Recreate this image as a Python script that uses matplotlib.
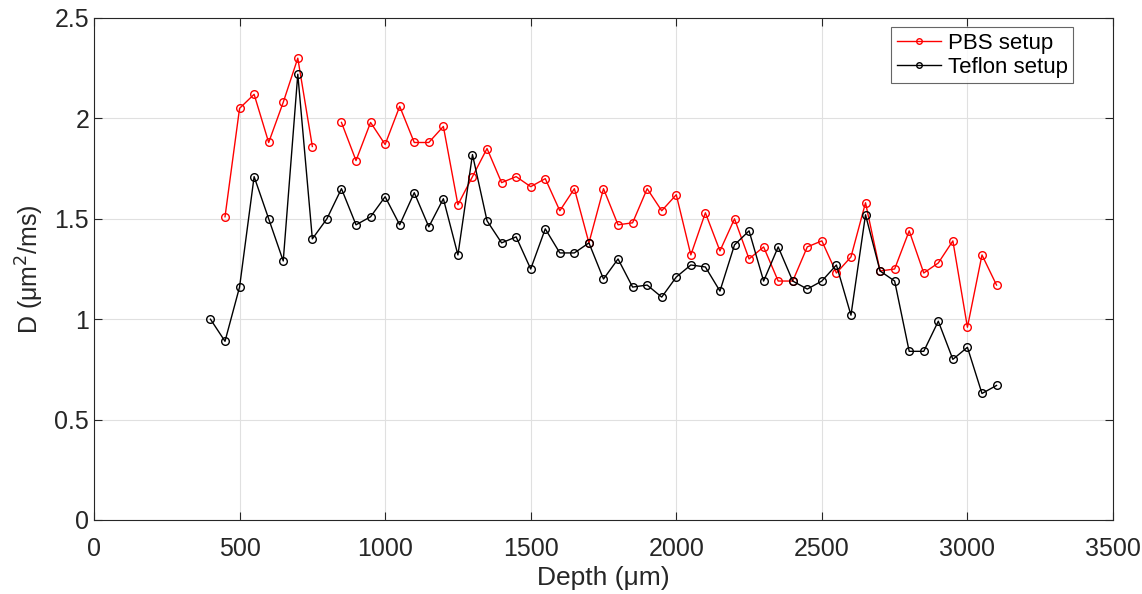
import numpy as np
import matplotlib
matplotlib.use('Agg')
import matplotlib.pyplot as plt

plt.rcParams['font.family'] = ['Liberation Sans', 'DejaVu Sans']

# PBS setup (no point at 800 um)
pbs_depth = np.arange(450, 3101, 50)
pbs_D = [1.51, 2.05, 2.12, 1.88, 2.08, 2.30, 1.86, np.nan, 1.98, 1.79,
         1.98, 1.87, 2.06, 1.88, 1.88, 1.96, 1.57, 1.71, 1.85, 1.68,
         1.71, 1.66, 1.70, 1.54, 1.65, 1.38, 1.65, 1.47, 1.48, 1.65,
         1.54, 1.62, 1.32, 1.53, 1.34, 1.50, 1.30, 1.36, 1.19, 1.19,
         1.36, 1.39, 1.23, 1.31, 1.58, 1.24, 1.25, 1.44, 1.23, 1.28,
         1.39, 0.96, 1.32, 1.17]

# Teflon setup
tef_depth = np.arange(400, 3101, 50)
tef_D = [1.00, 0.89, 1.16, 1.71, 1.50, 1.29, 2.22, 1.40, 1.50, 1.65,
         1.47, 1.51, 1.61, 1.47, 1.63, 1.46, 1.60, 1.32, 1.82, 1.49,
         1.38, 1.41, 1.25, 1.45, 1.33, 1.33, 1.38, 1.20, 1.30, 1.16,
         1.17, 1.11, 1.21, 1.27, 1.26, 1.14, 1.37, 1.44, 1.19, 1.36,
         1.19, 1.15, 1.19, 1.27, 1.02, 1.52, 1.24, 1.19, 0.84, 0.84,
         0.99, 0.80, 0.86, 0.63, 0.67]

fig = plt.figure(figsize=(11.42, 5.94), dpi=100)
ax = fig.add_axes([0.0823, 0.1246, 0.8923, 0.8451])

ax.plot(pbs_depth, pbs_D, '-o', color='red', lw=1, ms=5.5, mfc='none', mew=1, label='PBS setup')
ax.plot(tef_depth, tef_D, '-o', color='black', lw=1, ms=5.5, mfc='none', mew=1, label='Teflon setup')

ax.set_xlim(0, 3500)
ax.set_ylim(0, 2.5)
ax.set_xticks(np.arange(0, 3501, 500))
ax.set_yticks([0, 0.5, 1, 1.5, 2, 2.5])
ax.set_yticklabels(['0', '0.5', '1', '1.5', '2', '2.5'])
ax.grid(True, color='#e0e0e0', lw=0.8)
ax.set_axisbelow(True)
ax.tick_params(direction='in', top=True, right=True, labelsize=18, length=6, colors='#262626')
ax.tick_params(axis='x', pad=12)
for s in ax.spines.values():
    s.set_color('#262626')

ax.set_xlabel('Depth (\u03bcm)', fontsize=19, color='#262626', labelpad=4)
ax.set_ylabel('D (\u03bcm$^2$/ms)', fontsize=18, color='#262626', labelpad=6)

leg = ax.legend(loc='upper right', bbox_to_anchor=(0.961, 0.982), fontsize=16, frameon=True,
                fancybox=False, edgecolor='#404040', handlelength=2.0, borderpad=0.25,
                labelspacing=0.15, handletextpad=0.3, borderaxespad=0)
leg.get_frame().set_linewidth(0.8)
for h in leg.legend_handles:
    h.set_markersize(4)

fig.savefig('out.png', dpi=100)
